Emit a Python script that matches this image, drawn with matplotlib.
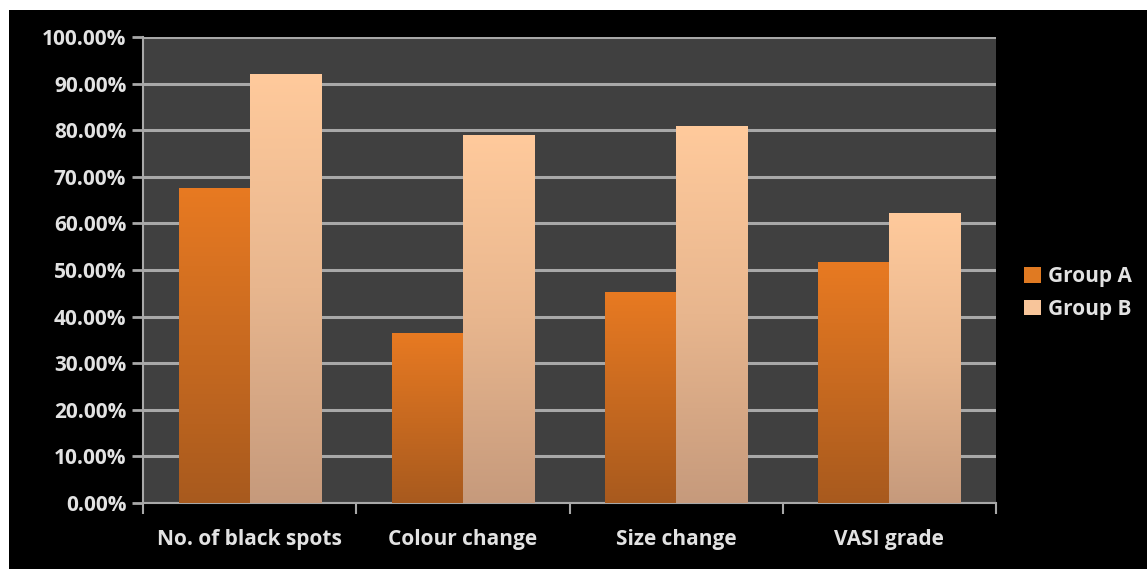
import matplotlib
matplotlib.use("Agg")
import matplotlib.pyplot as plt
import numpy as np
from matplotlib.colors import LinearSegmentedColormap
from matplotlib.patches import Rectangle

categories = ["No. of black spots", "Colour change", "Size change", "VASI grade"]
group_a = [67.6, 36.5, 45.3, 51.7]
group_b = [92.1, 79.0, 80.9, 62.2]
series_names = ["Group A", "Group B"]
yticks = [0, 10, 20, 30, 40, 50, 60, 70, 80, 90, 100]

W, H = 1147, 569
fig = plt.figure(figsize=(W / 100, H / 100), dpi=100, facecolor="white")
fig.patches.append(Rectangle((9 / W, 0), 1 - 9 / W, 1 - 10 / H, transform=fig.transFigure,
                             facecolor="black", edgecolor="none", zorder=-10))

ax = fig.add_axes([143 / W, 1 - 503 / H, (996 - 143) / W, (503 - 37) / H])
ax.set_facecolor("#404040")

FS = 15
font = dict(family="Open Sans", weight="bold", size=FS, color="#E2E2E2")

x = np.arange(len(categories))
bw = 1 / 3
bars_a = ax.bar(x - bw / 2, group_a, bw, color="#E07A22", zorder=3, label=series_names[0])
bars_b = ax.bar(x + bw / 2, group_b, bw, color="#F8C59A", zorder=3, label=series_names[1])

cmap_a = LinearSegmentedColormap.from_list("a", ["#A85A1E", "#C86A20", "#E87A22"])
cmap_b = LinearSegmentedColormap.from_list("b", ["#C69A7C", "#E8B68E", "#FFCA9C"])
grad = np.linspace(0, 1, 256).reshape(-1, 1)
for bars, cmap in ((bars_a, cmap_a), (bars_b, cmap_b)):
    for r in bars:
        x0, y0 = r.get_x(), r.get_y()
        w, h = r.get_width(), r.get_height()
        im = ax.imshow(grad, cmap=cmap, origin="lower", aspect="auto",
                       extent=(x0, x0 + w, 0, h), zorder=4, interpolation="bilinear")
        im.set_clip_path(r)

ax.set_xlim(-0.5, len(categories) - 0.5)
ax.set_ylim(0, 100)
ax.set_yticks(yticks)
ax.set_yticklabels([f"{v:.2f}%" for v in yticks], **font)
ax.yaxis.grid(True, color="#A8A8A8", linewidth=2.2, zorder=1)
ax.set_axisbelow(True)

ax.set_xticks(np.arange(-0.5, len(categories), 1.0))
ax.set_xticklabels([])
ax.set_xticks(x, minor=True)
ax.set_xticklabels(categories, minor=True, **font)
ax.tick_params(axis="x", which="minor", length=0, pad=19)
ax.tick_params(axis="x", which="major", length=8, width=1.5, color="#A8A8A8", direction="out")
ax.tick_params(axis="y", length=8, width=2, color="#A8A8A8", direction="out", pad=4)

for s in ("top", "right"):
    ax.spines[s].set_visible(False)
for s in ("left", "bottom"):
    ax.spines[s].set_color("#A8A8A8")
    ax.spines[s].set_linewidth(1.5)

leg = fig.legend(handles=[bars_a, bars_b], labels=series_names, loc="center left",
                 bbox_to_anchor=(1005 / W, 1 - 293 / H), frameon=False,
                 prop=dict(family="Open Sans", weight="bold", size=FS),
                 handlelength=0.85, handleheight=0.8, handletextpad=0.3, labelspacing=0.55)
for t in leg.get_texts():
    t.set_color("#E2E2E2")

fig.savefig("out.png", dpi=100, facecolor="white")
